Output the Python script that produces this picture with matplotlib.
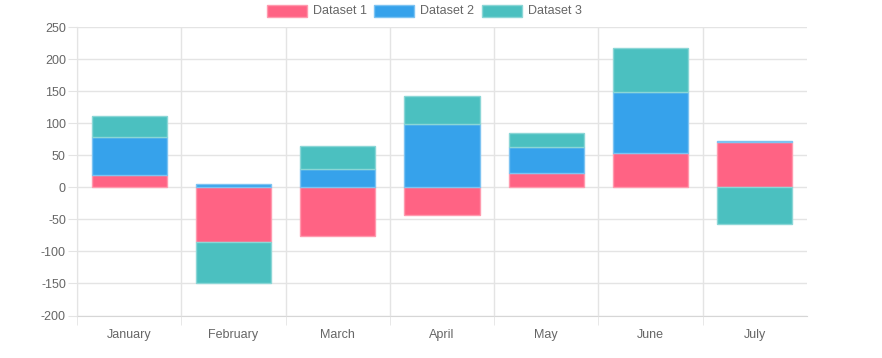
import matplotlib
matplotlib.use("Agg")
import matplotlib.pyplot as plt
from matplotlib.patches import Rectangle
import numpy as np

categories = ["January", "February", "March", "April", "May", "June", "July"]
dataset1 = [19, -86, -76, -43, 22, 54, 71]
dataset2 = [60, 5, 29, 99, 41, 95, 1]
dataset3 = [33, -64, 36, 44, 22, 68, -57]
series_names = ["Dataset 1", "Dataset 2", "Dataset 3"]
colors = ["#FF6384", "#36A2EB", "#4BC0C0"]
edges = ["#FF9AAE", "#7DC3F2", "#8BD6D6"]
y_ticks = [-200, -150, -100, -50, 0, 50, 100, 150, 200, 250]

plt.rcParams['font.family'] = ['Liberation Sans', 'DejaVu Sans']

W, H = 882, 358
fig = plt.figure(figsize=(W / 100, H / 100), dpi=100)
ax = fig.add_axes([77 / W, 1 - 315.5 / H, (807 - 77) / W, (315.5 - 27.3) / H])

x = np.arange(len(categories))
pos_base = np.zeros(len(categories))
neg_base = np.zeros(len(categories))
for vals, c, e in zip([dataset1, dataset2, dataset3], colors, edges):
    v = np.array(vals, dtype=float)
    base = np.where(v >= 0, pos_base, neg_base)
    ax.bar(x, v, bottom=base, width=0.72, color=c, edgecolor=e, linewidth=1.0, zorder=3)
    pos_base = pos_base + np.where(v >= 0, v, 0)
    neg_base = neg_base + np.where(v < 0, v, 0)

ax.set_xlim(-0.5, len(categories) - 0.5)
ax.set_ylim(-200, 250)
ax.set_yticks(y_ticks)
ax.set_yticklabels([str(t) for t in y_ticks])
ax.set_xticks(x)
ax.set_xticklabels(categories)
ax.set_xticks(np.arange(-0.5, len(categories) - 0.5, 1.0), minor=True)

grid_c = "#e4e4e4"
axis_c = "#d6d6d6"
ax.grid(axis="y", color=grid_c, linewidth=1, zorder=0)
ax.grid(axis="x", which="minor", color=grid_c, linewidth=1, zorder=0)
ax.grid(axis="x", which="major", visible=False)

for s in ["top", "right"]:
    ax.spines[s].set_visible(False)
ax.spines["left"].set_color(axis_c)
ax.spines["bottom"].set_color(axis_c)
ax.spines["left"].set_zorder(1)
ax.spines["bottom"].set_zorder(1)

ax.tick_params(axis="y", length=6.5, color=grid_c, labelcolor="#666666", labelsize=9, pad=1.5)
ax.tick_params(axis="x", which="major", length=0, labelcolor="#666666", labelsize=9, pad=10)
ax.tick_params(axis="x", which="minor", length=6.5, color=grid_c)

# legend
box_x = [267, 374, 482]
for bx, name, c, e in zip(box_x, series_names, colors, edges):
    fig.patches.append(Rectangle((bx / W, 1 - 16.5 / H), 40 / W, 12 / H,
                                 transform=fig.transFigure, facecolor=c,
                                 edgecolor=e, linewidth=1.0))
    fig.text((bx + 46) / W, 1 - 10.5 / H, name, fontsize=9, color="#666666",
             va="center", ha="left")

fig.savefig("out.png", dpi=100)
